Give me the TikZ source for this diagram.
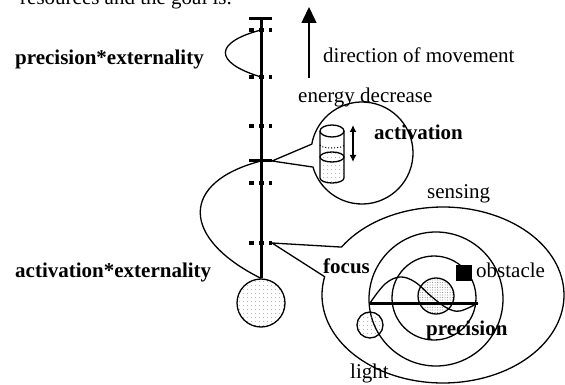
\documentclass[tikz,border=0pt]{standalone}
\usepackage{fontspec}
\setmainfont{Liberation Serif}
\usetikzlibrary{arrows.meta,patterns.meta,calc}
\tikzset{
  lab/.style={anchor=base west,inner sep=0pt,font=\fontsize{21}{25}\selectfont},
  blab/.style={lab,font=\fontsize{21}{25}\selectfont\bfseries},
  ln/.style={line width=1.3pt},
  thickthree/.style={line width=3pt},
  tickmark/.style={line width=4pt,dash pattern=on 5pt off 5pt},
  dotfill/.style={pattern={Dots[distance=4pt,radius=0.55pt]},pattern color=gray},
  densedot/.style={pattern={Dots[distance=2.5pt,radius=0.5pt]},pattern color=gray}
}
\begin{document}
\begin{tikzpicture}[x=1pt,y=-1pt]
\useasboundingbox (0,0) rectangle (565,385);
% top cut text
\node[lab] (toptext) at (20,5) {resources and the goal is.};
% main vertical axis
\coordinate (topL) at (249,19);
\coordinate (topR) at (272,19);
\coordinate (axtop) at (261,19);
\node[circle,draw,ln,minimum size=48pt,inner sep=0pt,dotfill] (ball) at (261,303) {};
\draw[thickthree] (topL) -- (topR);
\draw[thickthree] (axtop) -- (ball.north);
% dash marks
\foreach \yy/\nm in {30/m1,77/m2,126/m3,183/m4,243/m5}{
  \coordinate (\nm L) at (249,\yy);
  \coordinate (\nm R) at (272,\yy);
  \draw[tickmark] (\nm L) -- (\nm R);
}
% activation bar
\coordinate (actL) at (249,161);
\coordinate (actR) at (272,161);
\coordinate (actC) at (261,161);
\draw[thickthree] (actL) -- (actR);
% precision*externality loop
\coordinate (p1) at (261,30);
\coordinate (p2) at (261,77);
\draw[ln] (p1) .. controls (215,42) and (212,62) .. (p2);
% activation*externality loop
\draw[ln] (actC) .. controls (180,182) and (180,238) .. (ball.north);
% labels left
\node[blab] (pe) at (15,65) {precision*externality};
\node[blab] (ae) at (15,277) {activation*externality};
% direction arrow
\coordinate (dirS) at (309,78);
\coordinate (dirE) at (309,7);
\draw[line width=1.5pt,-{Triangle[length=16pt,width=15pt]}] (dirS) -- (dirE);
\node[lab] (dir) at (323,63) {direction of movement};
\node[lab] (en) at (298,103) {energy decrease};
% activation bubble
\coordinate (bubC) at (362,153);
\draw[ln] (actR) -- ($(bubC)+(190:51)$) arc[start angle=190,end angle=524,radius=51] -- cycle;
% cylinder
\fill[dotfill] (320,157) -- (320,178) arc[start angle=180,end angle=0,x radius=12,y radius=5] -- (344,157) arc[start angle=0,end angle=-180,x radius=12,y radius=5] -- cycle;
\draw[ln] (320,131) -- (320,178) arc[start angle=180,end angle=0,x radius=12,y radius=5] -- (344,131);
\draw[ln] (332,131) ellipse[x radius=12,y radius=6];
\draw[ln] (332,157) ellipse[x radius=12,y radius=5];
\draw[line width=1pt,dotted] (320,145) arc[start angle=180,end angle=0,x radius=12,y radius=3];
\coordinate (daT) at (353,125);
\coordinate (daB) at (353,162);
\draw[line width=1.5pt,{Latex[length=7pt,width=7pt]}-{Latex[length=7pt,width=7pt]}] (daT) -- (daB);
\node[blab] (act) at (374,140) {activation};
% sensing ellipse callout
\coordinate (sensC) at (443,295);
\draw[ln] (m5R) -- ($(sensC)+(213:121 and 88)$) arc[start angle=213,end angle=552,x radius=121,y radius=88] -- cycle;
\node[lab] (sens) at (427,198) {sensing};
% inner circles
\node[circle,draw,ln,minimum size=134pt,inner sep=0pt] (c1) at (436,299) {};
\node[circle,draw,ln,minimum size=84pt,inner sep=0pt] (c2) at (434,298) {};
\node[circle,draw,ln,minimum size=36pt,inner sep=0pt,densedot] (c3) at (436,296) {};
\coordinate (hl) at (370,303);
\coordinate (hr) at (478,303);
\draw[thickthree] (hl) -- (hr);
\draw[ln] plot[smooth,tension=0.6] coordinates {(370,303) (385,284) (400,277) (415,282) (432,297) (447,308) (460,311) (478,303)};
\node[fill=black,minimum size=16pt,inner sep=0pt] (obs) at (463.5,273) {};
\node[lab] (obst) at (476,277) {obstacle};
\node[blab] (foc) at (323,273) {focus};
\node[blab] (prec) at (426,335) {precision};
\node[circle,draw,ln,minimum size=26pt,inner sep=0pt,dotfill] (light) at (370,325) {};
\node[lab] (lt) at (350,378) {light};
\end{tikzpicture}
\end{document}
